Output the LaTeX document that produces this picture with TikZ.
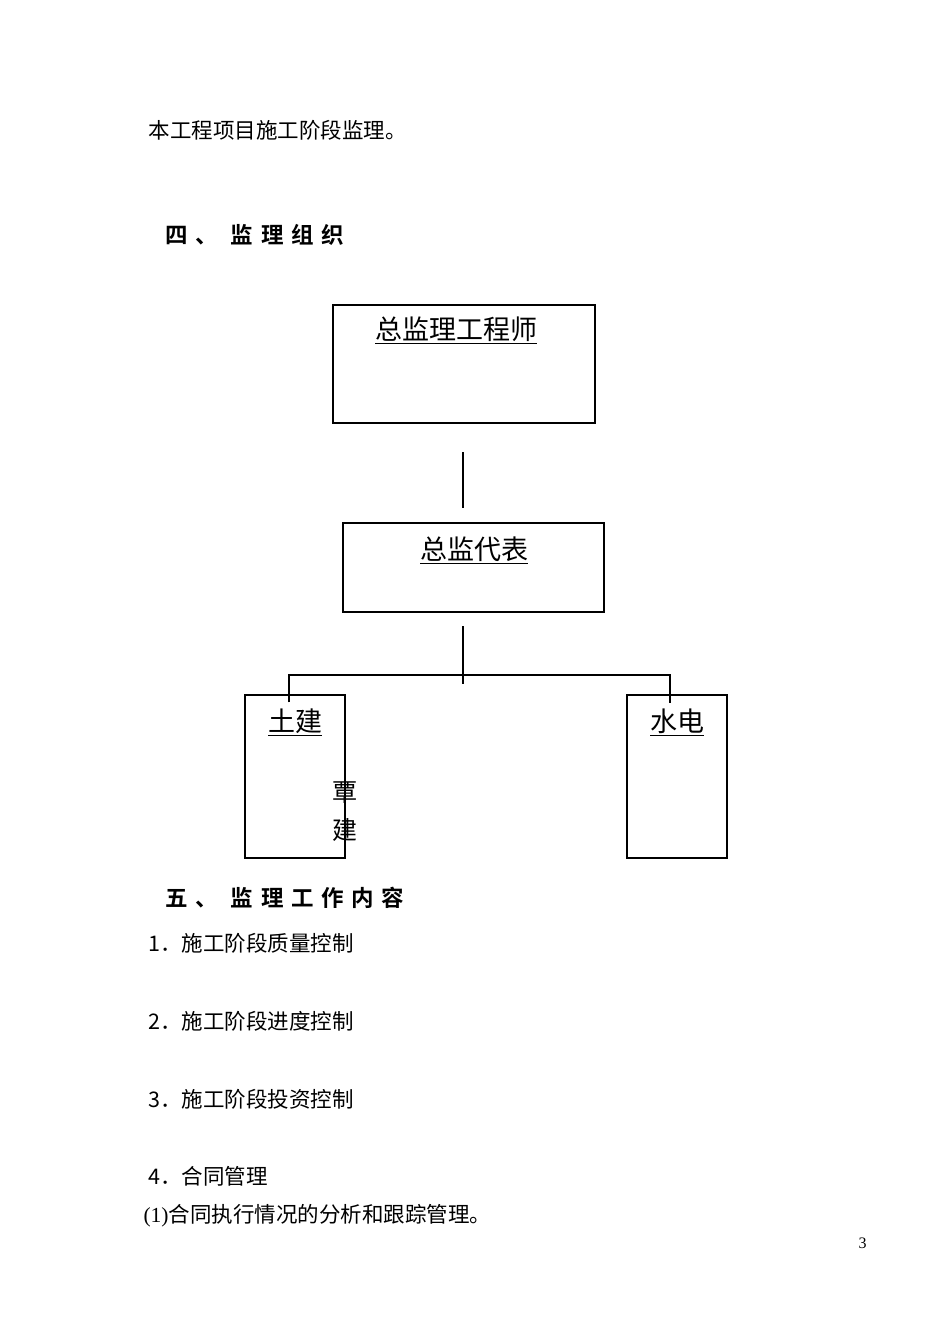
\documentclass[tikz,border=0pt]{standalone}
\usepackage{fontspec}
\setmainfont{Liberation Serif}
\newfontfamily\cjk[BoldFont={Noto Sans CJK SC Bold}]{Noto Sans CJK SC}
\usetikzlibrary{positioning}
\tikzset{every path/.style={line width=1.1pt}}
\tikzset{
  box/.style={draw,inner sep=0pt},
  txt/.style={anchor=west,inner sep=0pt,font=\cjk\fontsize{21.5}{25}\selectfont},
  head/.style={anchor=west,inner sep=0pt,font=\cjk\bfseries\addfontfeature{LetterSpace=34}\fontsize{22.5}{26}\selectfont},
  boxtitle/.style={inner sep=0pt,font=\cjk\fontsize{27}{32}\selectfont}
}

\begin{document}
\begin{tikzpicture}[x=1pt,y=-1pt]
\useasboundingbox (0,0) rectangle (950,1342);
\node[txt] (intro) at (148,130) {本工程项目施工阶段监理。};
\node[head] (h4) at (165,235) {四、 监理组织};
% org chart
\node[box,minimum width=262pt,minimum height=118pt] (zj) at (464,364) {};
\node[boxtitle] (zjt) at (456,330) {\underline{总监理工程师}};
\node[box,minimum width=261pt,minimum height=89pt] (db) at (473.5,567.5) {};
\node[boxtitle] (dbt) at (474,550) {\underline{总监代表}};
\node[box,minimum width=100pt,minimum height=163pt] (tj) at (295,776.5) {};
\node[boxtitle] (tjt) at (295,722) {\underline{土建}};
\node[box,minimum width=100pt,minimum height=163pt] (sd) at (677,776.5) {};
\node[boxtitle] (sdt) at (677,722) {\underline{水电}};
\node[boxtitle,font=\cjk\fontsize{25}{30}\selectfont] (qin) at (345,793) {覃};
\node[boxtitle,font=\cjk\fontsize{25}{30}\selectfont] (jian) at (345,830) {建};
\coordinate (l1a) at (463,452);
\coordinate (l1b) at (463,508);
\draw (l1a) -- (l1b);
\coordinate (l2a) at (463,626);
\coordinate (l2b) at (463,684);
\coordinate (bl) at (289,675);
\coordinate (br) at (670,675);
\draw (l2a) -- (l2b);
\draw (bl |- tj.north) ++(0,8) -- (bl) -- (br) -- ++(0,28);
% work contents
\node[head] (h5) at (165,898) {五、 监理工作内容};
\node[txt] (i1) at (148,943) {1．施工阶段质量控制};
\node[txt] (i2) at (148,1021) {2．施工阶段进度控制};
\node[txt] (i3) at (148,1099) {3．施工阶段投资控制};
\node[txt] (i4) at (148,1176) {4．合同管理};
\node[txt] (i5) at (143,1216) {\rmfamily(1)\cjk 合同执行情况的分析和跟踪管理。};
\node[anchor=west,inner sep=0pt,font=\fontsize{16}{18}\selectfont] (pg) at (858,1243) {3};
\end{tikzpicture}
\end{document}
